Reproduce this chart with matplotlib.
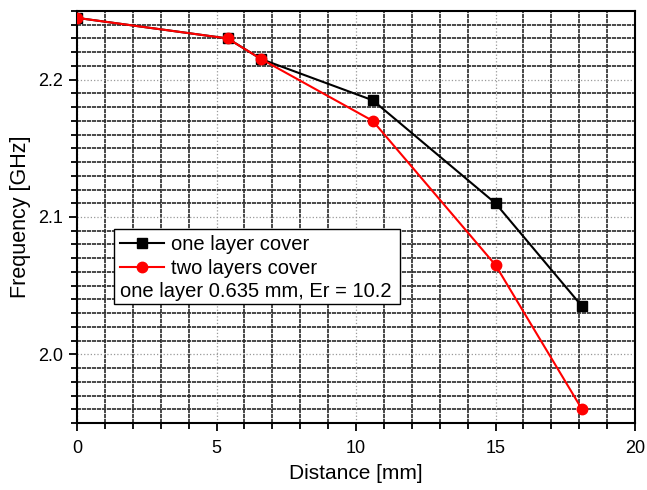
import matplotlib
matplotlib.use('Agg')
import matplotlib.pyplot as plt
from matplotlib.patches import Rectangle
from matplotlib.ticker import MultipleLocator, FormatStrFormatter

plt.rcParams['font.family'] = ['Liberation Sans', 'DejaVu Sans']

# data
distance = [0, 5.4, 6.6, 10.6, 15.0, 18.1]
freq_one = [2.245, 2.230, 2.215, 2.185, 2.110, 2.035]
freq_two = [2.245, 2.230, 2.215, 2.170, 2.065, 1.960]
labels = ['one layer cover', 'two layers cover']
note = 'one layer 0.635 mm, Er = 10.2'

fig = plt.figure(figsize=(6.47, 4.90), dpi=100)
ax = fig.add_axes([77 / 647, 67 / 490, 558 / 647, 412 / 490])

ax.set_xlim(0, 20)
ax.set_ylim(1.95, 2.25)
ax.xaxis.set_major_locator(MultipleLocator(5))
ax.xaxis.set_minor_locator(MultipleLocator(1))
ax.yaxis.set_major_locator(MultipleLocator(0.1))
ax.yaxis.set_minor_locator(MultipleLocator(0.01))
ax.yaxis.set_major_formatter(FormatStrFormatter('%.1f'))

# grids: thin dotted major, heavy minor
ax.grid(True, which='major', color='#999999', linestyle=':', linewidth=0.9)
ax.grid(True, which='minor', color='#2a2a2a', linestyle=(0, (2.5, 0.5)), linewidth=1.2)
ax.set_axisbelow(True)

ax.tick_params(which='major', direction='out', length=6, width=1.3,
               labelsize=13, top=False, right=False)
ax.tick_params(axis='x', which='major', pad=6)
ax.tick_params(axis='y', which='major', pad=4)
ax.tick_params(which='minor', direction='out', length=4, width=1.3,
               top=False, right=False)
for s in ax.spines.values():
    s.set_linewidth(1.5)

l1, = ax.plot(distance, freq_one, color='black', marker='s', markersize=7,
              linewidth=1.5, label=labels[0], zorder=3)
l2, = ax.plot(distance, freq_two, color='red', marker='o', markersize=7.5,
              linewidth=1.5, label=labels[1], zorder=4)

ax.set_xlabel('Distance [mm]', fontsize=15, labelpad=5)
ax.set_ylabel('Frequency [GHz]', fontsize=15.5, labelpad=5)

# legend box with extra note line
box = Rectangle((0.0663, 0.29), 0.5125, 0.1815, transform=ax.transAxes,
                facecolor='white', edgecolor='black', linewidth=1.0, zorder=5)
ax.add_patch(box)
leg = ax.legend(handles=[l1, l2], loc='upper left', bbox_to_anchor=(0.077, 0.456),
                frameon=False, fontsize=14.5, handlelength=2.2, handletextpad=0.35,
                borderaxespad=0, borderpad=0, labelspacing=0.26)
leg.set_zorder(6)
ax.text(0.077, 0.318, note, transform=ax.transAxes, fontsize=14.5,
        ha='left', va='center', zorder=6)

fig.savefig('out.png', dpi=100)
